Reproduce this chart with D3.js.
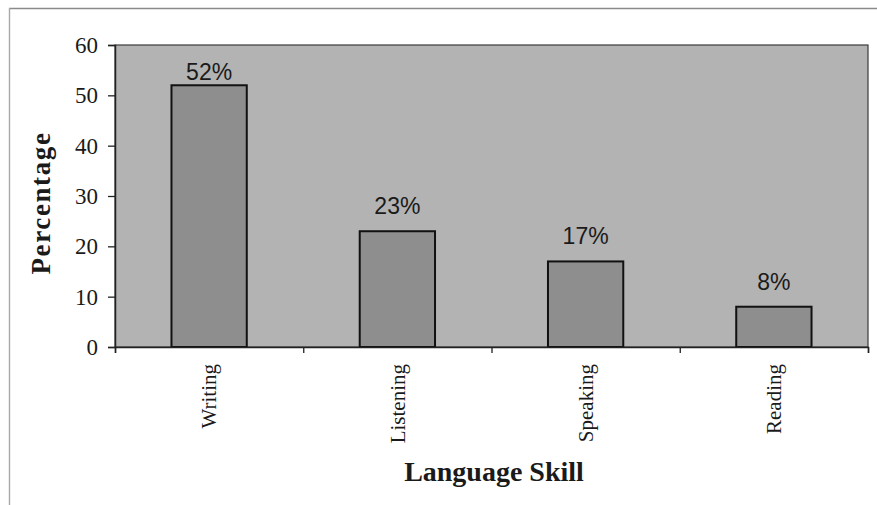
<!DOCTYPE html>
<html>
<head>
<meta charset="utf-8">
<script src="https://cdn.jsdelivr.net/npm/d3@7"></script>
<style>
  html, body { margin: 0; padding: 0; background: #fff; }
  svg { display: block; }
</style>
</head>
<body>
<svg id="chart" width="877" height="505"></svg>
<script>
// Share of responses by language skill
const skills = ["Writing", "Listening", "Speaking", "Reading"];
const percentages = [52, 23, 17, 8];
const yTicks = [0, 10, 20, 30, 40, 50, 60];

const svg = d3.select("#chart");
const W = 877, H = 505;
const plot = { left: 115, right: 868, top: 45, bottom: 347 };

// outer frame (top and left edges)
svg.append("line").attr("x1", 9).attr("x2", W).attr("y1", 8.5).attr("y2", 8.5)
  .attr("stroke", "#8a8a8a").attr("stroke-width", 1.6);
svg.append("line").attr("x1", 9.5).attr("x2", 9.5).attr("y1", 8).attr("y2", H)
  .attr("stroke", "#a8a8a8").attr("stroke-width", 1.4);

const x = d3.scaleBand().domain(skills)
  .range([plot.left, plot.right]).paddingInner(0.6).paddingOuter(0.3);
const xEdges = d3.scaleLinear().domain([0, skills.length]).range([plot.left, plot.right]);
const y = d3.scaleLinear().domain([0, 60]).range([plot.bottom, plot.top]);

// plot area
svg.append("rect")
  .attr("x", plot.left).attr("y", plot.top)
  .attr("width", plot.right - plot.left).attr("height", plot.bottom - plot.top)
  .attr("fill", "#b3b3b3").attr("stroke", "#3a3a3a").attr("stroke-width", 1.2);

// bars
svg.append("g").selectAll("rect")
  .data(skills.map((s, i) => ({ s, v: percentages[i] })))
  .join("rect")
  .attr("x", d => x(d.s))
  .attr("y", d => y(d.v))
  .attr("width", x.bandwidth())
  .attr("height", d => y(0) - y(d.v))
  .attr("fill", "#8e8e8e")
  .attr("stroke", "#111")
  .attr("stroke-width", 2);

// value labels
svg.append("g").selectAll("text")
  .data(skills.map((s, i) => ({ s, v: percentages[i] })))
  .join("text")
  .attr("x", d => x(d.s) + x.bandwidth() / 2)
  .attr("y", d => Math.max(y(d.v) - 17, y(60) + 35))
  .attr("text-anchor", "middle")
  .attr("font-family", "Liberation Sans, Arial, sans-serif")
  .attr("font-size", 23)
  .attr("fill", "#1a1a1a")
  .text(d => d.v + "%");

// y axis
const yAxis = svg.append("g")
  .attr("transform", `translate(${plot.left},0)`)
  .call(d3.axisLeft(y).tickValues(yTicks).tickSize(7).tickPadding(10).tickFormat(d3.format("d")));
yAxis.select(".domain").attr("stroke", "#222").attr("stroke-width", 1.5);
yAxis.selectAll(".tick line").attr("stroke", "#222").attr("stroke-width", 1.3);
yAxis.selectAll(".tick text")
  .attr("font-family", "Liberation Serif, Times New Roman, serif")
  .attr("font-size", 23).attr("fill", "#1a1a1a");

// x axis with ticks at category boundaries
const xAxis = svg.append("g")
  .attr("transform", `translate(0,${plot.bottom})`)
  .call(d3.axisBottom(xEdges).ticks(skills.length).tickSize(6).tickFormat(""));
xAxis.select(".domain").attr("stroke", "#222").attr("stroke-width", 1.5);
xAxis.selectAll(".tick line").attr("stroke", "#222").attr("stroke-width", 1.3);

// category labels, rotated
svg.append("g").selectAll("text")
  .data(skills)
  .join("text")
  .attr("transform", d => `translate(${x(d) + x.bandwidth() / 2},${plot.bottom + 17}) rotate(-90)`)
  .attr("text-anchor", "end")
  .attr("dy", "0.35em")
  .attr("font-family", "Liberation Serif, Times New Roman, serif")
  .attr("font-size", 21)
  .attr("fill", "#1a1a1a")
  .text(d => d);

// axis titles
svg.append("text")
  .attr("x", 494).attr("y", 481)
  .attr("text-anchor", "middle")
  .attr("font-family", "Liberation Serif, Times New Roman, serif")
  .attr("font-weight", "bold")
  .attr("font-size", 28)
  .attr("fill", "#1a1a1a")
  .text("Language Skill");

svg.append("text")
  .attr("transform", "translate(50,203) rotate(-90)")
  .attr("text-anchor", "middle")
  .attr("font-family", "Liberation Serif, Times New Roman, serif")
  .attr("font-weight", "bold")
  .attr("font-size", 27)
  .attr("letter-spacing", 1.6)
  .attr("fill", "#1a1a1a")
  .text("Percentage");
</script>
</body>
</html>
